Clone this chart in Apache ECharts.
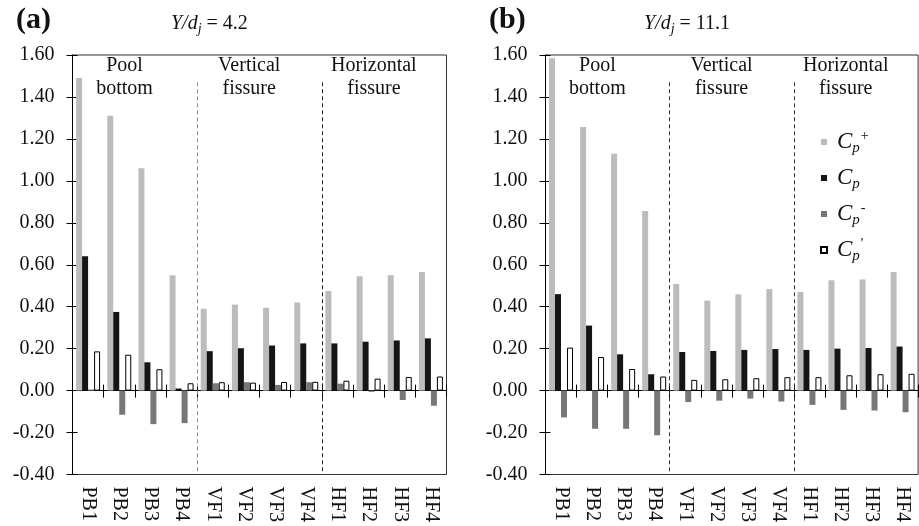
<!DOCTYPE html>
<html><head><meta charset="utf-8">
<script src="https://cdn.jsdelivr.net/npm/echarts@6/dist/echarts.min.js"></script>
<style>html,body{margin:0;padding:0;background:#fff}#c{width:919px;height:526px}</style>
</head><body><div id="c"></div>
<script>
// ---- data ----
const categories = ['PB1','PB2','PB3','PB4','VF1','VF2','VF3','VF4','HF1','HF2','HF3','HF4'];
const groupNames = ['Pool\nbottom','Vertical\nfissure','Horizontal\nfissure'];
const groupSizes = [4, 4, 4];
const seriesNames = ['Cp+', 'Cp', 'Cp-', "Cp'"];
const yMin = -0.4, yMax = 1.6, yStep = 0.2;

const panelLetters = ['(a)', '(b)'];
const panelRatios = ['4.2', '11.1'];

const cpPlusA  = [1.49, 1.31, 1.06, 0.55, 0.39, 0.41, 0.395, 0.42, 0.475, 0.545, 0.55, 0.565];
const cpMeanA  = [0.64, 0.375, 0.135, 0.01, 0.188, 0.202, 0.215, 0.225, 0.225, 0.233, 0.239, 0.249];
const cpMinusA = [0.005, -0.115, -0.16, -0.155, 0.035, 0.04, 0.027, 0.04, 0.033, -0.006, -0.045, -0.072];
const cpRmsA   = [0.187, 0.171, 0.102, 0.035, 0.04, 0.038, 0.041, 0.042, 0.047, 0.057, 0.065, 0.067];

const cpPlusB  = [1.585, 1.257, 1.129, 0.856, 0.508, 0.429, 0.459, 0.484, 0.47, 0.526, 0.53, 0.565];
const cpMeanB  = [0.46, 0.31, 0.173, 0.078, 0.184, 0.189, 0.194, 0.198, 0.194, 0.2, 0.203, 0.21];
const cpMinusB = [-0.128, -0.182, -0.182, -0.213, -0.055, -0.048, -0.038, -0.052, -0.068, -0.092, -0.095, -0.103];
const cpRmsB   = [0.205, 0.16, 0.103, 0.067, 0.051, 0.054, 0.059, 0.064, 0.064, 0.073, 0.078, 0.08];

// ---- style ----
const FONT = '"Liberation Serif", "Times New Roman", serif';
const TXT = '#111';
const LABEL_Y = 1.492;      // vertical position of group captions (data units)
const LINE_TOP = 1.47, LINE_BOTTOM = -0.385;
const grids = [
  {left: 72.5, top: 55, width: 374, height: 419.5},
  {left: 545.5, top: 55, width: 372.6, height: 419.5}
];
const panelOffsetX = [0, 473];
const dividerColors = [['#8a8a8a', '#222'], ['#333', '#333']];
const barColors = ['#bcbcbc', '#151515', '#777777', '#ffffff'];

const panelData = [
  [cpPlusA, cpMeanA, cpMinusA, cpRmsA],
  [cpPlusB, cpMeanB, cpMinusB, cpRmsB]
];

const option = {
  animation: false,
  backgroundColor: '#fff',
  textStyle: {fontFamily: FONT},
  grid: grids.map(g => Object.assign({show: true, borderColor: '#333', borderWidth: 1, backgroundColor: 'transparent'}, g)),
  title: [],
  xAxis: [],
  yAxis: [],
  series: [],
  legend: {
    orient: 'vertical', left: 815, top: 123, itemWidth: 6, itemHeight: 6, itemGap: 8,
    icon: 'rect', data: seriesNames,
    formatter: n => '{c|C}{s|p}' + (n === 'Cp+' ? '{u|+}' : n === 'Cp-' ? '{u|-}' : n === "Cp'" ? "{u|'}" : ''),
    textStyle: {
      fontFamily: FONT, color: TXT,
      rich: {
        c: {fontFamily: FONT, fontStyle: 'italic', fontSize: 23, lineHeight: 26, padding: [0, 0, 0, 5], color: TXT},
        s: {fontFamily: FONT, fontStyle: 'italic', fontSize: 15, lineHeight: 15, padding: [13, 0, 0, 0], color: TXT},
        u: {fontFamily: FONT, fontSize: 14, lineHeight: 14, padding: [0, 0, 12, 1], color: TXT}
      }
    }
  }
};

// group boundaries & centres
const bounds = [];
const centres = [];
let acc = 0;
groupSizes.forEach((s, i) => {
  centres.push(acc + s / 2 - 0.33);
  acc += s;
  if (i < groupSizes.length - 1) bounds.push(acc);
});

const helperAxes = [];
for (let p = 0; p < 2; p++) {
  const xb = option.xAxis.length;
  const yb = option.yAxis.length;
  const ox = panelOffsetX[p];
  helperAxes.push({xAxisIndex: xb + 3, yAxisIndex: yb});

  option.title.push({
    text: panelLetters[p], left: 11 + ox, top: 0, padding: 5,
    textStyle: {fontFamily: FONT, fontWeight: 'bold', fontSize: 30, color: TXT}
  });
  option.title.push({
    text: '{i|Y/d}{s|j}{n| = ' + panelRatios[p] + '}', left: 166 + ox, top: 7, padding: 5,
    textStyle: {
      fontWeight: 'normal',
      rich: {
        i: {fontFamily: FONT, fontStyle: 'italic', fontWeight: 'normal', fontSize: 20, lineHeight: 23, color: TXT},
        s: {fontFamily: FONT, fontStyle: 'italic', fontWeight: 'normal', fontSize: 14, lineHeight: 14, padding: [12, 0, 0, 0], color: TXT},
        n: {fontFamily: FONT, fontWeight: 'normal', fontSize: 20, lineHeight: 23, color: TXT}
      }
    }
  });

  // y axes: main (labels + outside ticks), second (inside ticks)
  option.yAxis.push({
    gridIndex: p, type: 'value', min: yMin, max: yMax, interval: yStep, position: 'left',
    axisLine: {show: true, onZero: false, lineStyle: {color: '#000', width: 1}},
    axisTick: {show: true, inside: false, length: 6, lineStyle: {color: '#000'}},
    splitLine: {show: false},
    axisLabel: {fontFamily: FONT, fontSize: 20, color: TXT, margin: 18, formatter: v => v.toFixed(2)}
  });
  option.yAxis.push({
    gridIndex: p, type: 'value', min: yMin, max: yMax, interval: yStep, position: 'left',
    axisLine: {show: false, onZero: false},
    axisTick: {show: true, inside: true, length: 5, lineStyle: {color: '#000'}},
    splitLine: {show: false}, axisLabel: {show: false}
  });

  // x axes
  option.xAxis.push({
    gridIndex: p, type: 'category', data: categories, position: 'bottom',
    axisLine: {show: true, onZero: true, onZeroAxisIndex: yb, lineStyle: {color: '#000', width: 1}},
    axisTick: {show: true, inside: true, length: 6, lineStyle: {color: '#000'}},
    axisLabel: {show: false}, splitLine: {show: false}
  });
  option.xAxis.push({
    gridIndex: p, type: 'category', data: categories, position: 'bottom',
    axisLine: {show: true, onZero: true, onZeroAxisIndex: yb, lineStyle: {color: '#000', width: 1}},
    axisTick: {show: true, inside: false, length: 7, lineStyle: {color: '#000'}},
    axisLabel: {show: false}, splitLine: {show: false}
  });
  option.xAxis.push({
    gridIndex: p, type: 'category', data: categories, position: 'bottom',
    axisLine: {show: false, onZero: false}, axisTick: {show: false},
    axisLabel: {show: true, rotate: -90, margin: 12, fontFamily: FONT, fontSize: 20, color: TXT, interval: 0},
    splitLine: {show: false}
  });
  option.xAxis.push({
    gridIndex: p, type: 'value', min: 0, max: categories.length, show: false,
    axisLine: {onZero: false}, splitLine: {show: false}
  });

  panelData[p].forEach((vals, k) => {
    option.series.push({
      name: seriesNames[k], type: 'bar', xAxisIndex: xb, yAxisIndex: yb,
      data: vals, barWidth: 6, barGap: '0%',
      itemStyle: k === 3 ? {color: '#fff', borderColor: '#000', borderWidth: 1} : {color: barColors[k]},
      emphasis: {disabled: true}
    });
  });

  // dividers between groups
  option.series.push({
    type: 'line', xAxisIndex: xb + 3, yAxisIndex: yb, silent: true, data: [],
    markLine: {
      silent: true, symbol: 'none', label: {show: false},
      data: bounds.map((b, i) => [
        {coord: [b, LINE_TOP], lineStyle: {color: dividerColors[p][i], type: [4, 3], width: 1}},
        {coord: [b, LINE_BOTTOM]}
      ])
    }
  });
}

const chart = echarts.init(document.getElementById('c'), null, {renderer: 'canvas'});
chart.setOption(option);

// group captions placed through the helper axes
const graphics = [];
helperAxes.forEach(h => {
  centres.forEach((c, i) => {
    const pt = chart.convertToPixel(h, [c, LABEL_Y]);
    graphics.push({
      type: 'text', x: pt[0], y: pt[1], silent: true,
      style: {text: groupNames[i], fill: '#111', font: '20px ' + FONT,
        align: 'center', verticalAlign: 'middle', lineHeight: 23}
    });
  });
});
chart.setOption({graphic: graphics});
</script>
</body></html>
